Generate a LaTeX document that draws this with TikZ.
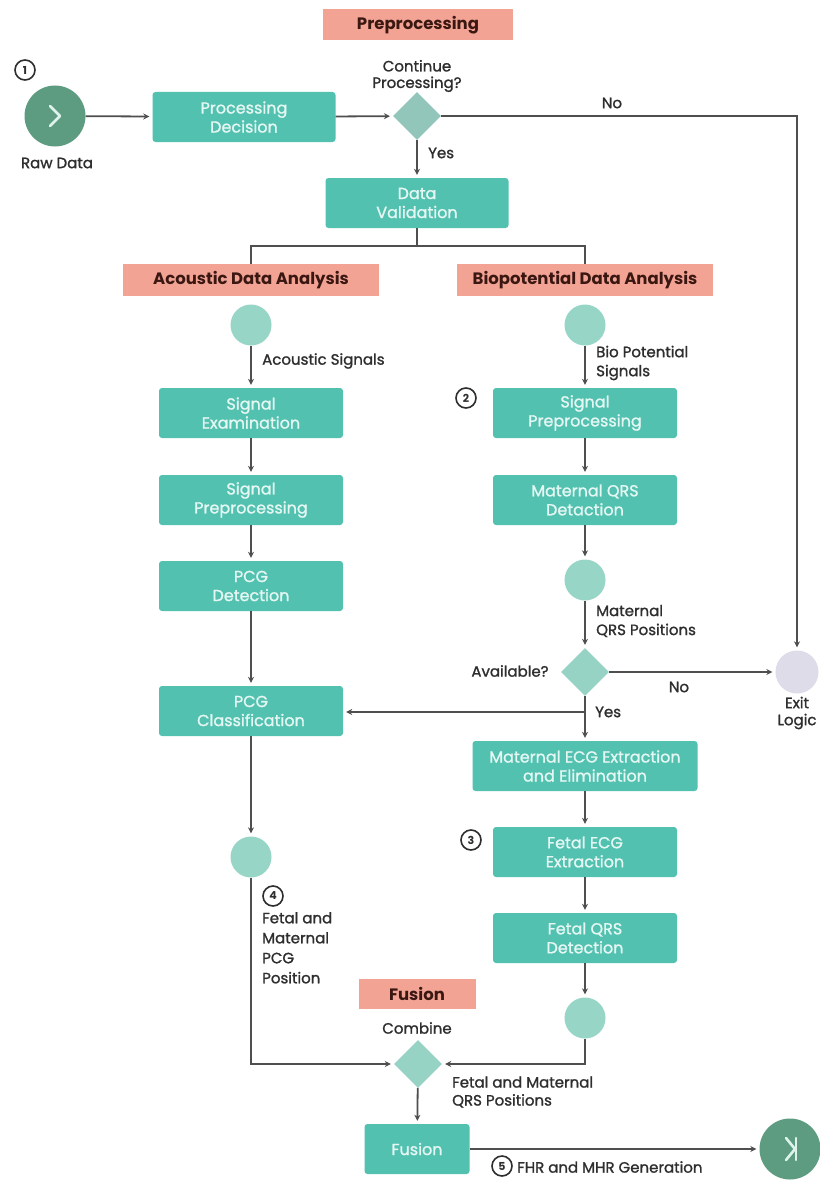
\documentclass[tikz,border=0pt]{standalone}
\usepackage{fontspec}
\setmainfont{Poppins}
\newfontfamily\pmed{Poppins}[FakeBold=1.3]
\usetikzlibrary{shapes.geometric,arrows.meta}
\definecolor{boxc}{HTML}{52C1B0}
\definecolor{boxtext}{HTML}{E4F7F2}
\definecolor{circc}{HTML}{97D5C6}
\definecolor{diac}{HTML}{97D3C5}
\definecolor{darkc}{HTML}{5E9C82}
\definecolor{exitc}{HTML}{DEDCE9}
\definecolor{hdrc}{HTML}{F2A394}
\definecolor{hdrtext}{HTML}{3B1712}
\definecolor{linec}{HTML}{4F4F4F}
\definecolor{txtc}{HTML}{2E2E2E}
\definecolor{iconc}{HTML}{DDF3EC}
\newcommand\boxfont{\pmed\fontsize{16}{19}\selectfont}
\newcommand\hdrfont{\fontsize{16.5}{18}\selectfont\bfseries}
\newcommand\lblfont{\pmed\fontsize{15}{18}\selectfont}
\newcommand\numfont{\fontsize{11}{11}\selectfont\bfseries}
\begin{document}
\begin{tikzpicture}[x=1pt,y=-1pt,
  box/.style={rectangle, rounded corners=3, fill=boxc, text=boxtext, minimum width=184, minimum height=50, align=center, inner sep=2, font=\boxfont},
  hdr/.style={rectangle, fill=hdrc, text=hdrtext, minimum height=32, inner sep=0, font=\hdrfont},
  dot/.style={circle, fill=circc, minimum size=41, inner sep=0},
  dia/.style={diamond, fill=diac, minimum width=48, minimum height=48, inner sep=0},
  lbl/.style={text=txtc, font=\lblfont, inner sep=0},
  num/.style={circle, draw=txtc, line width=1.6, minimum size=20, inner sep=0, text=txtc, font=\numfont},
  arr/.style={draw=linec, line width=1.8, -{Stealth[length=6,width=6]}, shorten >=3},
  ln/.style={draw=linec, line width=1.8},
  icon/.style={draw=iconc, line width=2.6, line cap=round, line join=round}]
\fill[white] (0,0) rectangle (819,1180);
\path[use as bounding box] (0,0) rectangle (819,1180);

% headers
\node[hdr, minimum width=190, minimum height=31] (hpre) at (418,25) {Preprocessing};
\node[hdr, minimum width=256] (hacou) at (251,280) {Acoustic Data Analysis};
\node[hdr, minimum width=256] (hbio) at (585,280) {Biopotential Data Analysis};
\node[hdr, minimum width=117, minimum height=30] (hfus) at (417,994) {Fusion};

% top row
\node[circle, fill=darkc, minimum size=61, inner sep=0] (start) at (55,116) {};
\draw[icon] ([shift={(-5,-10)}]start.center) -- ++(10,10) -- ++(-10,10);
\node[num] (n1) at (25,70) {1};
\node[lbl] (lraw) at (57,163) {Raw Data};
\node[box, minimum width=183] (pd) at (244,117) {Processing\\Decision};
\node[dia, fill=diac!85!gray] (d1) at (417,116) {};
\node[lbl, align=center, font=\pmed\fontsize{15}{16.5}\selectfont] (lcont) at (417,76) {Continue\\Processing?};
\node[box, minimum width=183] (dv) at (417,203) {Data\\Validation};
\node[circle, fill=exitc, minimum size=43, inner sep=0] (exit) at (797,672) {};
\node[lbl, align=center, font=\pmed\fontsize{15}{17}\selectfont] (lexit) at (797,713) {Exit\\Logic};

\draw[arr] (start) -- (pd);
\draw[arr] (pd) -- (d1);
\draw[arr] (d1.east) -| (exit.north);
\node[lbl] (lno1) at (612,103) {No};
\draw[arr] (d1) -- (dv);
\node[lbl, anchor=west] (lyes1) at (428,153) {Yes};
\coordinate (split) at (417,246);
\draw[ln] (dv.south) -- (split);
\draw[ln] (split) -| (hacou.north);
\draw[ln] (split) -| (hbio.north);

% acoustic column
\node[dot] (c1) at (251,325) {};
\node[box] (se) at (251,413) {Signal\\Examination};
\node[box] (sp1) at (251,500) {Signal\\Preprocessing};
\node[box] (pcgd) at (251,586) {PCG\\Detection};
\node[box] (pcgc) at (251,711) {PCG\\Classification};
\node[dot] (c4) at (251,857) {};
\draw[arr] (c1) -- (se);
\node[lbl, anchor=west] (lac) at (262,361) {Acoustic Signals};
\draw[arr] (se) -- (sp1);
\draw[arr] (sp1) -- (pcgd);
\draw[arr] (pcgd) -- (pcgc);
\draw[arr] (pcgc) -- (c4);
\node[num] (n4) at (273,896) {4};
\node[lbl, anchor=north west, align=left, font=\pmed\fontsize{15}{20}\selectfont] (lfm) at (262,912) {Fetal and\\Maternal\\PCG\\Position};

% biopotential column
\node[dot] (c2) at (585,325) {};
\node[box] (sp2) at (585,413) {Signal\\Preprocessing};
\node[box] (mqrs) at (585,500) {Maternal QRS\\Detaction};
\node[dot] (c3) at (585,580) {};
\node[dia] (avail) at (585,672) {};
\node[box, minimum width=225] (mecg) at (585,766) {Maternal ECG Extraction\\and Elimination};
\node[box] (fecg) at (585,852) {Fetal ECG\\Extraction};
\node[box] (fqrs) at (585,938) {Fetal QRS\\Detection};
\node[dot] (c5) at (585,1018) {};
\node[num] (n2) at (466,398) {2};
\node[num] (n3) at (471,840) {3};
\draw[arr] (c2) -- (sp2);
\node[lbl, anchor=west, align=left, font=\pmed\fontsize{15}{19}\selectfont] (lbio) at (596,363) {Bio Potential\\Signals};
\draw[arr] (sp2) -- (mqrs);
\draw[arr] (mqrs) -- (c3);
\draw[arr] (c3) -- (avail);
\node[lbl, anchor=west, align=left, font=\pmed\fontsize{15}{19}\selectfont] (lmqrs) at (596,621) {Maternal\\QRS Positions};
\node[lbl] (lavail) at (510,671) {Available?};
\draw[arr] (avail) -- (exit);
\node[lbl] (lno2) at (679,687) {No};
\draw[arr] (avail) -- (mecg);
\node[lbl, anchor=west] (lyes2) at (595,712) {Yes};
\coordinate (br) at (585,712);
\draw[arr] (br) -- (pcgc.east |- br);
\draw[arr] (mecg) -- (fecg);
\draw[arr] (fecg) -- (fqrs);
\draw[arr] (fqrs) -- (c5);

% fusion
\node[dia] (comb) at (418,1064) {};
\node[lbl] (lcomb) at (417,1028) {Combine};
\node[box, minimum width=105] (fus) at (417,1149) {Fusion};
\node[circle, fill=darkc, minimum size=61, inner sep=0] (endc) at (790,1149) {};
\draw[icon] ([shift={(-4,-11)}]endc.center) -- ++(9,11) -- ++(-9,11);
\draw[icon] ([shift={(6,-11)}]endc.center) -- ++(0,22);
\draw[arr] (c4) |- (comb);
\draw[arr] (c5) |- (comb);
\node[lbl, anchor=west, align=left, font=\pmed\fontsize{15}{18}\selectfont] (lfqrs) at (452,1092) {Fetal and Maternal\\QRS Positions};
\draw[arr] (comb) -- (fus);
\draw[arr] (fus) -- (endc);
\node[num] (n5) at (502,1166) {5};
\node[lbl, anchor=west] (lfhr) at (517,1167) {FHR and MHR Generation};
\end{tikzpicture}
\end{document}
